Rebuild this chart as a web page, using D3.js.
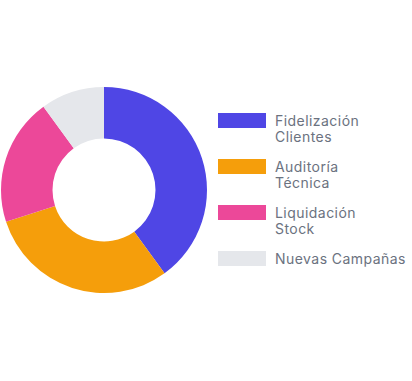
<!DOCTYPE html>
<html>
<head>
<meta charset="utf-8">
<script src="https://cdn.jsdelivr.net/npm/d3@7"></script>
<style>
html,body{margin:0;padding:0;background:#fff;}
svg{display:block;}
</style>
</head>
<body>
<svg id="chart" width="412" height="381"></svg>
<script>
const categories = ["Fidelización Clientes", "Auditoría Técnica", "Liquidación Stock", "Nuevas Campañas"];
const labelLines = [["Fidelización", "Clientes"], ["Auditoría", "Técnica"], ["Liquidación", "Stock"], ["Nuevas Campañas"]];
const values = [40, 30, 20, 10];
const colors = ["#4f46e5", "#f59e0b", "#ec4899", "#e5e7eb"];

const svg = d3.select("#chart");
const cx = 104, cy = 190, rOuter = 103, rInner = 51.5;

const pie = d3.pie().sort(null).value(d => d)(values);
const arc = d3.arc().innerRadius(rInner).outerRadius(rOuter);

svg.append("g").attr("transform", `translate(${cx},${cy})`)
  .selectAll("path").data(pie).join("path")
  .attr("d", arc)
  .attr("fill", (d, i) => colors[i]);

const legend = svg.append("g").attr("font-family", "Inter, 'Open Sans', sans-serif")
  .attr("font-size", 14).attr("letter-spacing", 0.45).attr("fill", "#6b7280");

const itemY = [113, 159, 205, 251];
const g = legend.selectAll("g").data(categories).join("g")
  .attr("transform", (d, i) => `translate(218,${itemY[i]})`);
g.append("rect").attr("width", 48).attr("height", 15)
  .attr("fill", (d, i) => colors[i]);
g.append("text").attr("x", 57).attr("y", 13)
  .selectAll("tspan").data((d, i) => labelLines[i]).join("tspan")
  .attr("x", 57).attr("dy", (d, j) => j === 0 ? 0 : 16)
  .text(d => d);
</script>
</body>
</html>
